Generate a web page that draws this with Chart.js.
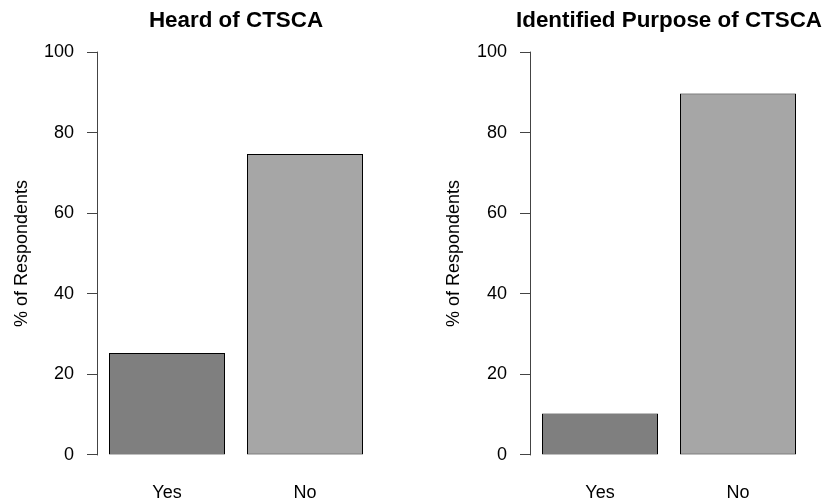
<!DOCTYPE html>
<html>
<head>
<meta charset="utf-8">
<script src="https://cdn.jsdelivr.net/npm/chart.js@4"></script>
<style>
body { margin: 0; background: #fff; overflow: hidden; }
#wrap { position: relative; width: 822px; height: 500px; }
canvas { position: absolute; top: 0; }
</style>
</head>
<body>
<div id="wrap">
  <canvas id="heard" width="411" height="500" style="left:0"></canvas>
  <canvas id="purpose" width="411" height="500" style="left:411px"></canvas>
</div>
<script>
var categories = ['Yes', 'No'];
var heardValues = [25.3, 74.7];
var purposeValues = [10.3, 89.7];
var yTicks = [0, 20, 40, 60, 80, 100];
var barColors = ['#7f7f7f', '#a6a6a6'];

Chart.defaults.font.family = "'Liberation Sans', Arial, sans-serif";
Chart.defaults.color = '#000';

// R draws the y axis line only between the first and last tick
var axisLine = {
    id: 'axisLine',
    afterDraw: function (chart) {
        var y = chart.scales.y, ctx = chart.ctx;
        var x = Math.round(y.right) - 0.5;
        ctx.save();
        ctx.strokeStyle = '#444';
        ctx.lineWidth = 1;
        ctx.beginPath();
        ctx.moveTo(x, y.getPixelForValue(yTicks[0]) + 0.5);
        ctx.lineTo(x, y.getPixelForValue(yTicks[yTicks.length - 1]) - 0.5);
        ctx.stroke();
        ctx.restore();
    }
};

// main title centred over the plot region (like R's main=), not squeezed to its width
var panelTitle = {
    id: 'panelTitle',
    afterDraw: function (chart, args, opts) {
        var a = chart.chartArea, ctx = chart.ctx;
        ctx.save();
        ctx.font = 'bold 22.4px ' + Chart.defaults.font.family;
        ctx.fillStyle = '#000';
        ctx.textAlign = 'center';
        ctx.textBaseline = 'alphabetic';
        ctx.fillText(opts.text, (a.left + a.right) / 2, 27);
        ctx.restore();
    }
};

function makeChart(id, title, values, axisWidth, padRight, titlePad) {
    return new Chart(document.getElementById(id), {
        type: 'bar',
        data: {
            labels: categories,
            datasets: [{
                data: values,
                backgroundColor: barColors,
                borderColor: '#000',
                borderWidth: 1,
                borderSkipped: false,
                categoryPercentage: 116 / 138,
                barPercentage: 1
            }]
        },
        options: {
            responsive: false,
            animation: false,
            devicePixelRatio: 1,
            layout: { padding: { left: 0, right: padRight, top: 36, bottom: 0 } },
            plugins: {
                legend: { display: false },
                tooltip: { enabled: false },
                title: { display: false },
                panelTitle: { text: title }
            },
            scales: {
                x: {
                    grid: { display: false },
                    border: { display: false },
                    ticks: { padding: 3, font: { size: 18 }, color: '#000' },
                    afterFit: function (s) { s.height = 29; }
                },
                y: {
                    min: -4,
                    max: 104,
                    afterBuildTicks: function (s) {
                        s.ticks = yTicks.map(function (v) { return { value: v }; });
                    },
                    afterFit: function (s) { s.width = axisWidth; },
                    grid: { drawOnChartArea: false, drawTicks: true, tickLength: 11, tickColor: '#444', color: '#444' },
                    border: { display: false },
                    ticks: { padding: 13, font: { size: 18 }, color: '#000' },
                    title: {
                        display: true,
                        text: '% of Respondents',
                        color: '#000',
                        font: { size: 18 },
                        padding: { top: titlePad, bottom: 0 }
                    }
                }
            }
        },
        plugins: [axisLine, panelTitle]
    });
}

makeChart('heard', 'Heard of CTSCA', heardValues, 98, 37, 11.2);
makeChart('purpose', 'Identified Purpose of CTSCA', purposeValues, 120, 15, 32.7);
</script>
</body>
</html>
